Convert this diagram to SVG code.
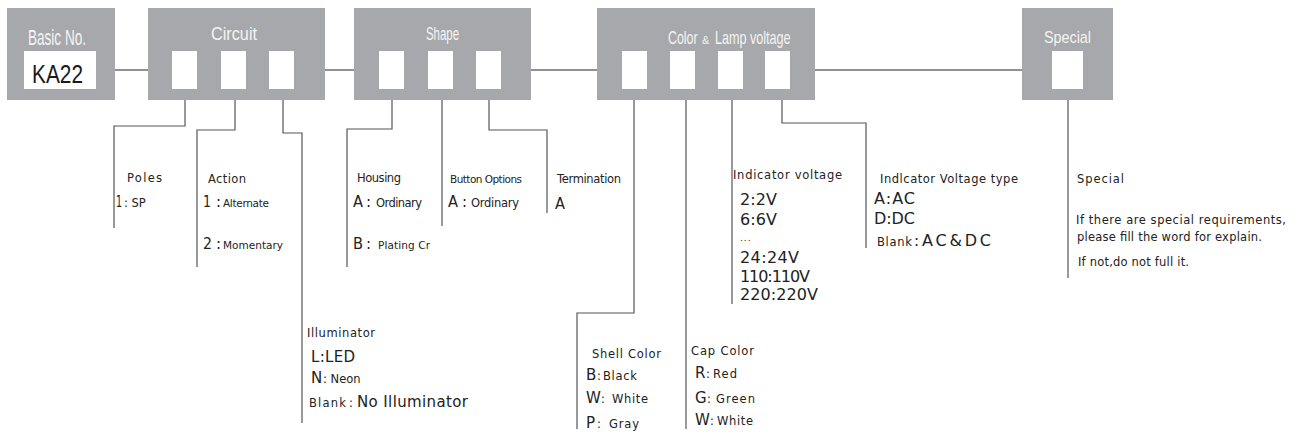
<svg xmlns="http://www.w3.org/2000/svg" width="1295" height="434" viewBox="0 0 1295 434">
<style>
.box{fill:#a7a8ab}
.slot{fill:#fff}
.hd{font-family:"Liberation Sans",Arial,sans-serif;fill:#f4f4f4}
.ln{fill:none;stroke:#555;stroke-width:1.2}
.main{fill:none;stroke:#6e6e70;stroke-width:1.5}
.t{font-family:"DejaVu Sans",Verdana,sans-serif;fill:#222}
.s{font-size:11.5px}
.m{font-size:10.5px}
.b{font-size:16px}
.n{font-size:15px}
</style>
<rect width="1295" height="434" fill="#fff"/>
<g id="connectors">
<path class="main" d="M115,70H148M325,70H354M531,70H597M815,70H1022"/>
<path class="ln" d="M185,100V126H114V228"/>
<path class="ln" d="M235,100V130H197V267"/>
<path class="ln" d="M283,100V133H302V423"/>
<path class="ln" d="M392,100V129H347V267"/>
<path class="ln" d="M442,100V226"/>
<path class="ln" d="M489,100V130H547V213"/>
<path class="ln" d="M634,100V313H577V429"/>
<path class="ln" d="M686,100V429"/>
<path class="ln" d="M732,100V304"/>
<path class="ln" d="M782,100V123H866V248"/>
<path class="ln" d="M1068,100V278"/>
</g>
<g id="basic">
<rect class="box" x="7" y="8" width="108" height="92"/>
<text class="hd" x="28" y="45" font-size="22" textLength="58" lengthAdjust="spacingAndGlyphs">Basic No.</text>
<rect class="slot" x="24" y="51" width="72" height="38"/>
<text x="32" y="83" font-family="Liberation Sans,Arial,sans-serif" font-size="25" textLength="51" lengthAdjust="spacingAndGlyphs" fill="#1a1a1a">KA22</text>
</g>
<g id="circuit">
<rect class="box" x="148" y="8" width="177" height="92"/>
<text class="hd" x="211" y="40" font-size="19" textLength="46" lengthAdjust="spacingAndGlyphs">Circuit</text>
<rect class="slot" x="172" y="51" width="25" height="38"/>
<rect class="slot" x="221" y="51" width="25" height="38"/>
<rect class="slot" x="269" y="51" width="25" height="38"/>
</g>
<g id="shape">
<rect class="box" x="354" y="8" width="177" height="92"/>
<text class="hd" x="426" y="40" font-size="19" textLength="33" lengthAdjust="spacingAndGlyphs">Shape</text>
<rect class="slot" x="379" y="51" width="25" height="38"/>
<rect class="slot" x="428" y="51" width="25" height="38"/>
<rect class="slot" x="476" y="51" width="25" height="38"/>
</g>
<g id="color">
<rect class="box" x="597" y="8" width="218" height="92"/>
<text class="hd" transform="translate(668,44) scale(0.69,1)" x="0" y="0" font-size="18">Color</text>
<text class="hd" x="702" y="44" font-size="11">&amp;</text>
<text class="hd" transform="translate(715,44) scale(0.7,1)" x="0" y="0" font-size="18">Lamp voltage</text>
<rect class="slot" x="622" y="51" width="25" height="38"/>
<rect class="slot" x="670" y="51" width="25" height="38"/>
<rect class="slot" x="718" y="51" width="25" height="38"/>
<rect class="slot" x="765" y="51" width="25" height="38"/>
</g>
<g id="special">
<rect class="box" x="1022" y="8" width="91" height="92"/>
<text class="hd" x="1044" y="43" font-size="17" textLength="47" lengthAdjust="spacingAndGlyphs">Special</text>
<rect class="slot" x="1052" y="51" width="31" height="38"/>
</g>
<g id="poles">
<text class="t s" x="127" y="182" textLength="35">Poles</text>
<text class="t" y="207"><tspan class="n" x="116" textLength="6" lengthAdjust="spacingAndGlyphs">1</tspan><tspan class="s" x="124">: SP</tspan></text>
</g>
<g id="action">
<text class="t s" x="208" y="183" textLength="38">Action</text>
<text class="t" y="207"><tspan class="b" x="203" textLength="8" lengthAdjust="spacingAndGlyphs">1</tspan><tspan class="n" x="216">:</tspan><tspan class="m" x="223" textLength="46">Alternate</tspan></text>
<text class="t" y="249"><tspan class="b" x="203" textLength="9" lengthAdjust="spacingAndGlyphs">2</tspan><tspan class="n" x="216">:</tspan><tspan class="m" x="223" textLength="60">Momentary</tspan></text>
</g>
<g id="illuminator">
<text class="t s" x="307" y="337" textLength="68">Illuminator</text>
<text class="t n" x="311" y="362" textLength="44">L:LED</text>
<text class="t" y="383"><tspan class="n" x="311">N</tspan><tspan class="s" x="323">: Neon</tspan></text>
<text class="t" y="407"><tspan class="s" x="309" textLength="37">Blank</tspan><tspan class="s" x="349">:</tspan><tspan class="n" x="357" textLength="111">No Illuminator</tspan></text>
</g>
<g id="housing">
<text class="t s" x="357" y="182" textLength="44">Housing</text>
<text class="t" y="207"><tspan class="b" x="353" textLength="10" lengthAdjust="spacingAndGlyphs">A</tspan><tspan class="n" x="366">:</tspan><tspan class="s" x="376" textLength="46">Ordinary</tspan></text>
<text class="t" y="249"><tspan class="b" x="353" textLength="10" lengthAdjust="spacingAndGlyphs">B</tspan><tspan class="n" x="366">:</tspan><tspan class="m" x="378" textLength="52">Plating Cr</tspan></text>
</g>
<g id="button">
<text class="t m" x="450" y="183" textLength="72">Button Options</text>
<text class="t" y="207"><tspan class="b" x="448" textLength="10" lengthAdjust="spacingAndGlyphs">A</tspan><tspan class="n" x="462">:</tspan><tspan class="s" x="471" textLength="48">Ordinary</tspan></text>
</g>
<g id="termination">
<text class="t s" x="557" y="183" textLength="64">Termination</text>
<text class="t b" x="555" y="209" textLength="10" lengthAdjust="spacingAndGlyphs">A</text>
</g>
<g id="shell">
<text class="t s" x="592" y="358" textLength="69">Shell Color</text>
<text class="t" y="380"><tspan class="n" x="586">B</tspan><tspan class="s" x="597">:</tspan><tspan class="s" x="603" textLength="34">Black</tspan></text>
<text class="t" y="403"><tspan class="n" x="586">W</tspan><tspan class="s" x="601">:</tspan><tspan class="s" x="612" textLength="36">White</tspan></text>
<text class="t" y="428"><tspan class="n" x="586">P</tspan><tspan class="s" x="597">:</tspan><tspan class="s" x="609" textLength="30">Gray</tspan></text>
</g>
<g id="cap">
<text class="t s" x="691" y="355" textLength="63">Cap Color</text>
<text class="t" y="378"><tspan class="n" x="695">R</tspan><tspan class="s" x="706">:</tspan><tspan class="s" x="713" textLength="24">Red</tspan></text>
<text class="t" y="403"><tspan class="n" x="695">G</tspan><tspan class="s" x="707">:</tspan><tspan class="s" x="716" textLength="39">Green</tspan></text>
<text class="t" y="425"><tspan class="n" x="695">W</tspan><tspan class="s" x="710">:</tspan><tspan class="s" x="717" textLength="36">White</tspan></text>
</g>
<g id="indvoltage">
<text class="t s" x="733" y="179" textLength="109">Indicator voltage</text>
<text class="t b" x="740" y="205" textLength="37">2:2V</text>
<text class="t b" x="740" y="225" textLength="37">6:6V</text>
<text class="t" x="740" y="241" font-size="9" letter-spacing="1">...</text>
<text class="t b" x="740" y="263" textLength="59">24:24V</text>
<text class="t b" x="740" y="282" textLength="70">110:110V</text>
<text class="t b" x="740" y="300" textLength="78">220:220V</text>
</g>
<g id="indtype">
<text class="t s" x="880" y="183" textLength="138">Indlcator Voltage type</text>
<text class="t b" x="874" y="204" textLength="41">A:AC</text>
<text class="t b" x="874" y="224" textLength="41">D:DC</text>
<text class="t" y="246"><tspan class="s" x="877" textLength="35">Blank</tspan><tspan class="n" x="914">:</tspan><tspan class="b" x="922" textLength="69">AC&amp;DC</tspan></text>
</g>
<g id="specialtext">
<text class="t s" x="1077" y="183" textLength="47">Special</text>
<text class="t" x="1076" y="224" font-size="11.5" textLength="210">If there are special requirements,</text>
<text class="t" x="1077" y="241" font-size="11.5" textLength="185">please fill the word for explain.</text>
<text class="t" x="1078" y="266" font-size="11.5" textLength="111">If not,do not full it.</text>
</g>
</svg>
